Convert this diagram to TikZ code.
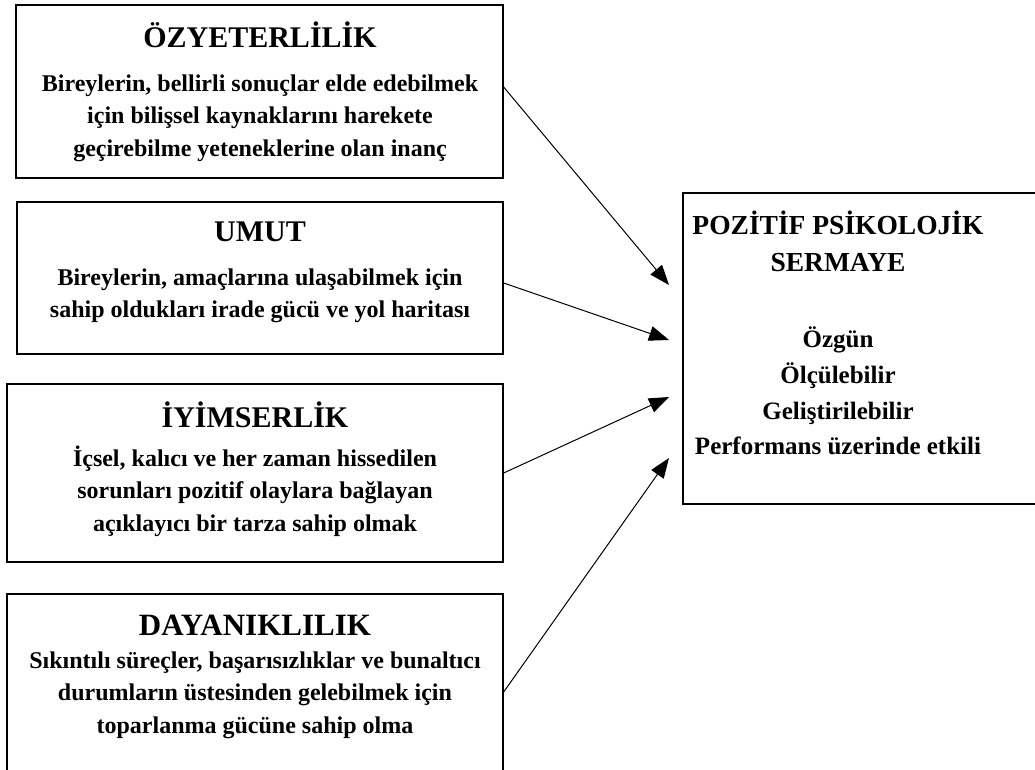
\documentclass[tikz,border=0pt]{standalone}
\usepackage{fontspec}
\setmainfont{Liberation Serif}
\usetikzlibrary{arrows.meta}

\begin{document}
\begin{tikzpicture}[x=1pt, y=-1pt,
    kutu/.style={draw, line width=1.3pt, rectangle, inner sep=0pt},
    baslik/.style={inner sep=0pt, align=center, font=\fontsize{30}{37}\selectfont\bfseries},
    metin/.style={inner sep=0pt, align=center, font=\fontsize{24}{32.5}\selectfont\bfseries},
    ok/.style={line width=1pt, -{Triangle[length=20pt, width=15pt]}}]
    \useasboundingbox (0,0) rectangle (1035,769);

    % Sol kutular
    \node[kutu, minimum width=487pt, minimum height=173pt] (oz) at (259.5,91.5) {};
    \node[baslik] (ozT) at (260,35) {ÖZYETERLİLİK};
    \node[metin] (ozM) at (260,118) {Bireylerin, bellirli sonuçlar elde edebilmek\\
        için bilişsel kaynaklarını harekete\\geçirebilme yeteneklerine olan inanç};

    \node[kutu, minimum width=486pt, minimum height=152pt] (umut) at (260,278) {};
    \node[baslik] (umutT) at (260,232) {UMUT};
    \node[metin] (umutM) at (260,296) {Bireylerin, amaçlarına ulaşabilmek için\\
        sahip oldukları irade gücü ve yol haritası};

    \node[kutu, minimum width=496pt, minimum height=178pt] (iyim) at (255,473) {};
    \node[baslik] (iyimT) at (255,415) {İYİMSERLİK};
    \node[metin] (iyimM) at (255,491) {İçsel, kalıcı ve her zaman hissedilen\\
        sorunları pozitif olaylara bağlayan\\açıklayıcı bir tarza sahip olmak};

    \node[kutu, minimum width=496pt, minimum height=186pt] (day) at (255,687) {};
    \node[baslik, font=\fontsize{31}{37}\selectfont\bfseries] (dayT) at (255,625) {DAYANIKLILIK};
    \node[metin] (dayM) at (255,695) {Sıkıntılı süreçler, başarısızlıklar ve bunaltıcı\\
        durumların üstesinden gelebilmek için\\toparlanma gücüne sahip olma};

    % Sag kutu
    \node[kutu, minimum width=362pt, minimum height=311pt] (pps) at (864,348.5) {};
    \node[baslik, font=\fontsize{27.5}{37}\selectfont\bfseries] (ppsT) at (838,241.5)
        {POZİTİF PSİKOLOJİK\\SERMAYE};
    \node[metin, font=\fontsize{25}{35.7}\selectfont\bfseries] (ppsM) at (838,391)
        {Özgün\\Ölçülebilir\\Geliştirilebilir\\Performans üzerinde etkili};

    % Ok uclari
    \coordinate (u1) at (669,285);
    \coordinate (u2) at (669,340);
    \coordinate (u3) at (669,397);
    \coordinate (u4) at (669,458);

    \draw[ok] ([yshift=4.5pt]oz.east) -- (u1);
    \draw[ok] ([yshift=-5pt]umut.east) -- (u2);
    \draw[ok] (iyim.east) -- (u3);
    \draw[ok] ([yshift=-5pt]day.east) -- (u4);
\end{tikzpicture}
\end{document}
